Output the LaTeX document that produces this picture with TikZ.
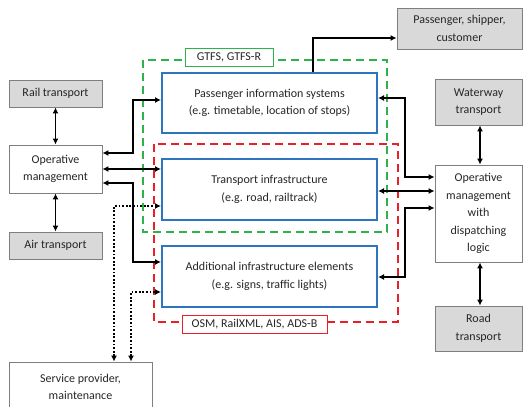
\documentclass[tikz,border=0pt]{standalone}
\usepackage{fontspec}
\setmainfont{Carlito}
\usetikzlibrary{arrows.meta}
\definecolor{txt}{HTML}{262626}
\definecolor{grayfill}{HTML}{D9D9D9}
\definecolor{grayline}{HTML}{7F7F7F}
\definecolor{myblue}{HTML}{2E75C0}
\definecolor{mygreen}{HTML}{2DB34A}
\definecolor{myred}{HTML}{E8202A}
\tikzset{
  every node/.style={font=\fontsize{12}{17.5}\selectfont, text=txt, align=center, inner sep=0pt},
  graybox/.style={draw=grayline, fill=grayfill, line width=0.9pt},
  whitebox/.style={draw=grayline, fill=white, line width=0.9pt},
  bluebox/.style={draw=myblue, fill=white, line width=2pt},
  conn/.style={line width=1.7pt, black, {Latex[length=6pt,width=6pt]}-{Latex[length=6pt,width=6pt]}},
  conn1/.style={line width=1.7pt, black, -{Latex[length=6pt,width=6pt]}},
  dotconn/.style={line width=1.8pt, black, dash pattern=on 1.8pt off 1.8pt, {Latex[length=6pt,width=6pt]}-{Latex[length=6pt,width=6pt]}},
  greendash/.style={draw=mygreen, line width=2pt, dash pattern=on 8pt off 5pt},
  reddash/.style={draw=myred, line width=2pt, dash pattern=on 8pt off 5pt},
}
\begin{document}
\begin{tikzpicture}[x=1pt,y=-1pt]
\useasboundingbox (0,0) rectangle (525,407);
% dashed groups
\draw[greendash] (143,60) rectangle (387,232);
\draw[reddash] (154,144) rectangle (398,322);
% labels of groups
\node[draw=mygreen, fill=white, line width=1pt, minimum width=88pt, minimum height=18pt] (gtfs) at (229,57) {GTFS, GTFS-R};
\node[draw=myred, fill=white, line width=1pt, minimum width=145pt, minimum height=18pt] (osm) at (254.5,324) {OSM, RailXML, AIS, ADS-B};
% left boxes
\node[graybox, minimum width=93pt, minimum height=27pt] (rail) at (55.5,93.5) {Rail transport};
\node[whitebox, minimum width=93pt, minimum height=48pt] (opl) at (55.5,169) {Operative\\management};
\node[graybox, minimum width=93pt, minimum height=27pt] (air) at (55.5,245.5) {Air transport};
\node[whitebox, minimum width=143pt, minimum height=50pt] (serv) at (80.5,387) {Service provider,\\maintenance};
% blue boxes
\node[bluebox, minimum width=215pt, minimum height=60pt] (pass) at (269.5,103) {Passenger information systems\\(e.g. timetable, location of stops)};
\node[bluebox, minimum width=215pt, minimum height=61pt] (trans) at (269.5,189.5) {Transport infrastructure\\(e.g. road, railtrack)};
\node[bluebox, minimum width=215pt, minimum height=61pt] (add) at (269.5,276.5) {Additional infrastructure elements\\(e.g. signs, traffic lights)};
% right boxes
\node[graybox, minimum width=125pt, minimum height=41pt] (pss) at (459.5,28.5) {Passenger, shipper,\\customer};
\node[graybox, minimum width=87pt, minimum height=46pt] (water) at (478.5,102) {Waterway\\transport};
\node[whitebox, minimum width=87pt, minimum height=97pt] (opr) at (478.5,213.5) {Operative\\management\\with\\dispatching\\logic};
\node[graybox, minimum width=87pt, minimum height=45pt] (road) at (478.5,328.5) {Road\\transport};
% connectors left
\draw[conn] (rail.south) -- (opl.north);
\draw[conn] (opl.south) -- (air.north);
\draw[conn] (opl.east |- 0,153) -- (133,153) |- (pass.west |- 0,100);
\draw[conn] (opl.east |- 0,169) -- (trans.west |- 0,169);
\draw[conn] (opl.east |- 0,183) -- (133,183) |- (add.west |- 0,262);
\draw[dotconn] (serv.north -| 114,0) |- (trans.west |- 0,206);
\draw[dotconn] (serv.north -| 131,0) |- (add.west |- 0,292);
% connectors top/right
\draw[conn1] (pass.north -| 313,0) |- (pss.west |- 0,38);
\draw[conn] (pass.east |- 0,98) -| (405,177) -- (opr.west |- 0,177);
\draw[conn] (trans.east |- 0,191) -- (opr.west |- 0,191);
\draw[conn] (add.east |- 0,277) -| (405,208) -- (opr.west |- 0,208);
\draw[conn] (water.south -| 480,0) -- (opr.north -| 480,0);
\draw[conn] (opr.south -| 480,0) -- (road.north -| 480,0);
\end{tikzpicture}
\end{document}
